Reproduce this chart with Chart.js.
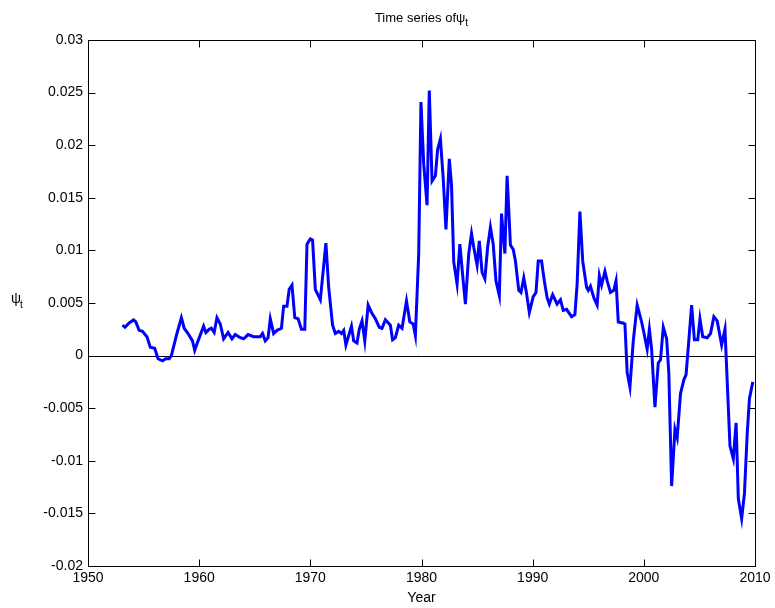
<!DOCTYPE html>
<html>
<head>
<meta charset="utf-8">
<script src="https://cdn.jsdelivr.net/npm/chart.js@4"></script>
<style>
  html, body { margin: 0; padding: 0; background: #fff; }
  canvas { display: block; }
</style>
</head>
<body>
<canvas id="psiChart" width="775" height="608"></canvas>
<script>
// ── Time series of psi_t ──
const years = [
  1953.1, 1953.33, 1953.7, 1954.1, 1954.3, 1954.6, 1954.9, 1955.3, 1955.6, 1956.0,
  1956.3, 1956.7, 1957.0, 1957.3, 1957.5, 1958.0, 1958.4, 1958.65, 1959.0, 1959.4,
  1959.6, 1959.9, 1960.4, 1960.6, 1960.9, 1961.1, 1961.35, 1961.6, 1961.9, 1962.2,
  1962.6, 1962.95, 1963.25, 1963.7, 1964.0, 1964.4, 1964.9, 1965.5, 1965.7, 1965.95,
  1966.2, 1966.4, 1966.7, 1967.0, 1967.4, 1967.6, 1967.9, 1968.1, 1968.35, 1968.6,
  1968.9, 1969.2, 1969.5, 1969.7, 1970.0, 1970.2, 1970.45, 1970.9, 1971.4, 1971.65,
  1972.0, 1972.25, 1972.55, 1972.8, 1973.0, 1973.2, 1973.45, 1973.7, 1973.9, 1974.2,
  1974.4, 1974.65, 1974.9, 1975.2, 1975.5, 1975.85, 1976.2, 1976.45, 1976.75, 1977.2,
  1977.4, 1977.65, 1977.95, 1978.25, 1978.65, 1978.95, 1979.25, 1979.45, 1979.75, 1979.95,
  1980.2, 1980.5, 1980.7, 1980.95, 1981.25, 1981.45, 1981.7, 1981.95, 1982.2, 1982.5,
  1982.7, 1982.9, 1983.2, 1983.45, 1983.75, 1983.95, 1984.25, 1984.5, 1984.7, 1985.0,
  1985.2, 1985.45, 1985.7, 1985.95, 1986.2, 1986.45, 1986.7, 1987.0, 1987.2, 1987.5,
  1987.7, 1988.0, 1988.25, 1988.45, 1988.75, 1988.95, 1989.2, 1989.45, 1989.7, 1990.05,
  1990.3, 1990.5, 1990.8, 1991.05, 1991.3, 1991.5, 1991.8, 1992.2, 1992.5, 1992.75,
  1993.05, 1993.5, 1993.8, 1994.0, 1994.25, 1994.5, 1994.85, 1995.0, 1995.2, 1995.5,
  1995.8, 1996.0, 1996.2, 1996.5, 1996.7, 1997.0, 1997.3, 1997.5, 1997.7, 1998.1,
  1998.3, 1998.5, 1998.75, 1999.05, 1999.4, 1999.8, 2000.0, 2000.3, 2000.5, 2000.7,
  2001.0, 2001.3, 2001.5, 2001.75, 2002.05, 2002.25, 2002.5, 2002.8, 2003.0, 2003.3,
  2003.6, 2003.8, 2004.3, 2004.55, 2004.85, 2005.05, 2005.3, 2005.7, 2006.0, 2006.3,
  2006.6, 2007.0, 2007.3, 2007.75, 2008.05, 2008.3, 2008.5, 2008.8, 2009.05, 2009.3,
  2009.5, 2009.8
];
const psi = [
  0.0029, 0.0027, 0.0031, 0.0034, 0.0032, 0.0024, 0.0023, 0.0018, 0.0008, 0.0007,
  -0.0003, -0.0005, -0.0003, -0.0003, 0.0000, 0.0021, 0.0036, 0.0026, 0.0021, 0.0014,
  0.0005, 0.0014, 0.0028, 0.0022, 0.0025, 0.0026, 0.0022, 0.0036, 0.0030, 0.0016,
  0.0022, 0.0016, 0.0020, 0.0017, 0.0016, 0.0020, 0.0018, 0.0018, 0.0021, 0.0014,
  0.0017, 0.0035, 0.0021, 0.0024, 0.0026, 0.0047, 0.0047, 0.0063, 0.0067, 0.0036,
  0.0035, 0.0025, 0.0025, 0.0106, 0.0111, 0.0110, 0.0063, 0.0053, 0.0107, 0.0065,
  0.0029, 0.0021, 0.0023, 0.0021, 0.0024, 0.0010, 0.0019, 0.0028, 0.0014, 0.0012,
  0.0025, 0.0033, 0.0014, 0.0048, 0.0041, 0.0035, 0.0027, 0.0026, 0.0034, 0.0029,
  0.0015, 0.0017, 0.0029, 0.0026, 0.0052, 0.0032, 0.0030, 0.0019, 0.0097, 0.0241,
  0.0182, 0.0143, 0.0252, 0.0166, 0.0171, 0.0196, 0.0206, 0.0169, 0.0120, 0.0187,
  0.0162, 0.0089, 0.0068, 0.0106, 0.0071, 0.0049, 0.0097, 0.0116, 0.0103, 0.0086,
  0.0109, 0.0079, 0.0073, 0.0103, 0.0122, 0.0106, 0.0071, 0.0057, 0.0135, 0.0097,
  0.0171, 0.0105, 0.0101, 0.0090, 0.0062, 0.0060, 0.0074, 0.0059, 0.0041, 0.0056,
  0.0060, 0.0090, 0.0090, 0.0071, 0.0055, 0.0049, 0.0058, 0.0049, 0.0053, 0.0043,
  0.0044, 0.0037, 0.0039, 0.0068, 0.0137, 0.0090, 0.0065, 0.0062, 0.0066, 0.0055,
  0.0048, 0.0076, 0.0067, 0.0080, 0.0071, 0.0060, 0.0062, 0.0071, 0.0032, 0.0031,
  0.0030, -0.0016, -0.0030, 0.0014, 0.0048, 0.0032, 0.0022, 0.0006, 0.0025, 0.0006,
  -0.0049, -0.0007, -0.0004, 0.0027, 0.0016, -0.0017, -0.0124, -0.0070, -0.0078, -0.0036,
  -0.0023, -0.0018, 0.0048, 0.0015, 0.0015, 0.0035, 0.0018, 0.0017, 0.0021, 0.0037,
  0.0033, 0.0010, 0.0025, -0.0086, -0.0098, -0.0064, -0.0136, -0.0155, -0.0131, -0.0074,
  -0.0041, -0.0025
];
const xTicks = [1950, 1960, 1970, 1980, 1990, 2000, 2010];
const yTicks = [-0.02, -0.015, -0.01, -0.005, 0, 0.005, 0.01, 0.015, 0.02, 0.025, 0.03];

const FONT = 'Liberation Sans, Arial, sans-serif';

// frame, inward ticks, zero line and the texts (MATLAB look)
const matlabAxes = {
  id: 'matlabAxes',
  beforeDatasetsDraw(chart) {
    const { ctx, chartArea: a, scales: { y } } = chart;
    const y0 = Math.round(y.getPixelForValue(0)) + 0.5;
    ctx.save();
    ctx.strokeStyle = '#000';
    ctx.lineWidth = 1;
    ctx.beginPath();
    ctx.moveTo(a.left, y0);
    ctx.lineTo(a.right, y0);
    ctx.stroke();
    ctx.restore();
  },
  afterDraw(chart) {
    const { ctx, chartArea: a, scales: { x, y } } = chart;
    const L = Math.round(a.left) + 0.5, R = Math.round(a.right) + 0.5;
    const T = Math.round(a.top) + 0.5, B = Math.round(a.bottom) + 0.5;
    const tl = 7;
    ctx.save();
    ctx.strokeStyle = '#000';
    ctx.lineWidth = 1;
    ctx.strokeRect(L, T, R - L, B - T);
    ctx.beginPath();
    xTicks.forEach(v => {
      const px = Math.round(x.getPixelForValue(v)) + 0.5;
      ctx.moveTo(px, B); ctx.lineTo(px, B - tl);
      ctx.moveTo(px, T); ctx.lineTo(px, T + tl);
    });
    yTicks.forEach(v => {
      const py = Math.round(y.getPixelForValue(v)) + 0.5;
      ctx.moveTo(L, py); ctx.lineTo(L + tl, py);
      ctx.moveTo(R, py); ctx.lineTo(R - tl, py);
    });
    ctx.stroke();

    // title: "Time series ofψ_t"
    ctx.fillStyle = '#000';
    ctx.textBaseline = 'alphabetic';
    ctx.font = '13px ' + FONT;
    const t1 = 'Time series of', t2 = 'ψ';
    ctx.font = '13px ' + FONT;
    const w1 = ctx.measureText(t1).width, w2 = ctx.measureText(t2).width;
    ctx.font = '10px ' + FONT;
    const w3 = ctx.measureText('t').width;
    let cx = (a.left + a.right) / 2 - (w1 + w2 + w3) / 2;
    ctx.textAlign = 'left';
    ctx.font = '13px ' + FONT;
    ctx.fillText(t1, cx, 22);
    ctx.fillText(t2, cx + w1, 22);
    ctx.font = '10px ' + FONT;
    ctx.fillText('t', cx + w1 + w2, 26);

    // x label
    ctx.font = '14px ' + FONT;
    ctx.textAlign = 'center';
    ctx.fillText('Year', (a.left + a.right) / 2, 602);

    // y label ψ_t
    ctx.textAlign = 'left';
    ctx.font = '14px ' + FONT;
    ctx.fillText('ψ', 11, 303);
    ctx.font = '10px ' + FONT;
    ctx.fillText('t', 20, 308);
    ctx.restore();
  }
};

new Chart(document.getElementById('psiChart').getContext('2d'), {
  type: 'line',
  data: {
    datasets: [{
      data: years.map((yr, i) => ({ x: yr, y: psi[i] })),
      borderColor: '#0000ff', borderWidth: 3,
      pointRadius: 0, tension: 0, fill: false
    }]
  },
  options: {
    responsive: false,
    animation: false,
    devicePixelRatio: 1,
    layout: { padding: { top: 40, right: 20, left: 0, bottom: 0 } },
    plugins: { legend: { display: false }, tooltip: { enabled: false } },
    scales: {
      x: {
        type: 'linear', min: 1950, max: 2010,
        afterBuildTicks: s => { s.ticks = xTicks.map(v => ({ value: v })); },
        afterFit: s => { s.height = 42; },
        grid: { display: false, drawTicks: false }, border: { display: false },
        ticks: { padding: 4, color: '#000', font: { family: FONT, size: 14 }, maxRotation: 0, callback: v => String(v) }
      },
      y: {
        min: -0.02, max: 0.03,
        afterBuildTicks: s => { s.ticks = yTicks.map(v => ({ value: v })); },
        afterFit: s => { s.width = 88; },
        grid: { display: false, drawTicks: false }, border: { display: false },
        ticks: { padding: 5, color: '#000', font: { family: FONT, size: 14 }, callback: v => String(Number(v.toFixed(3))) }
      }
    }
  },
  plugins: [matlabAxes]
});
</script>
</body>
</html>
